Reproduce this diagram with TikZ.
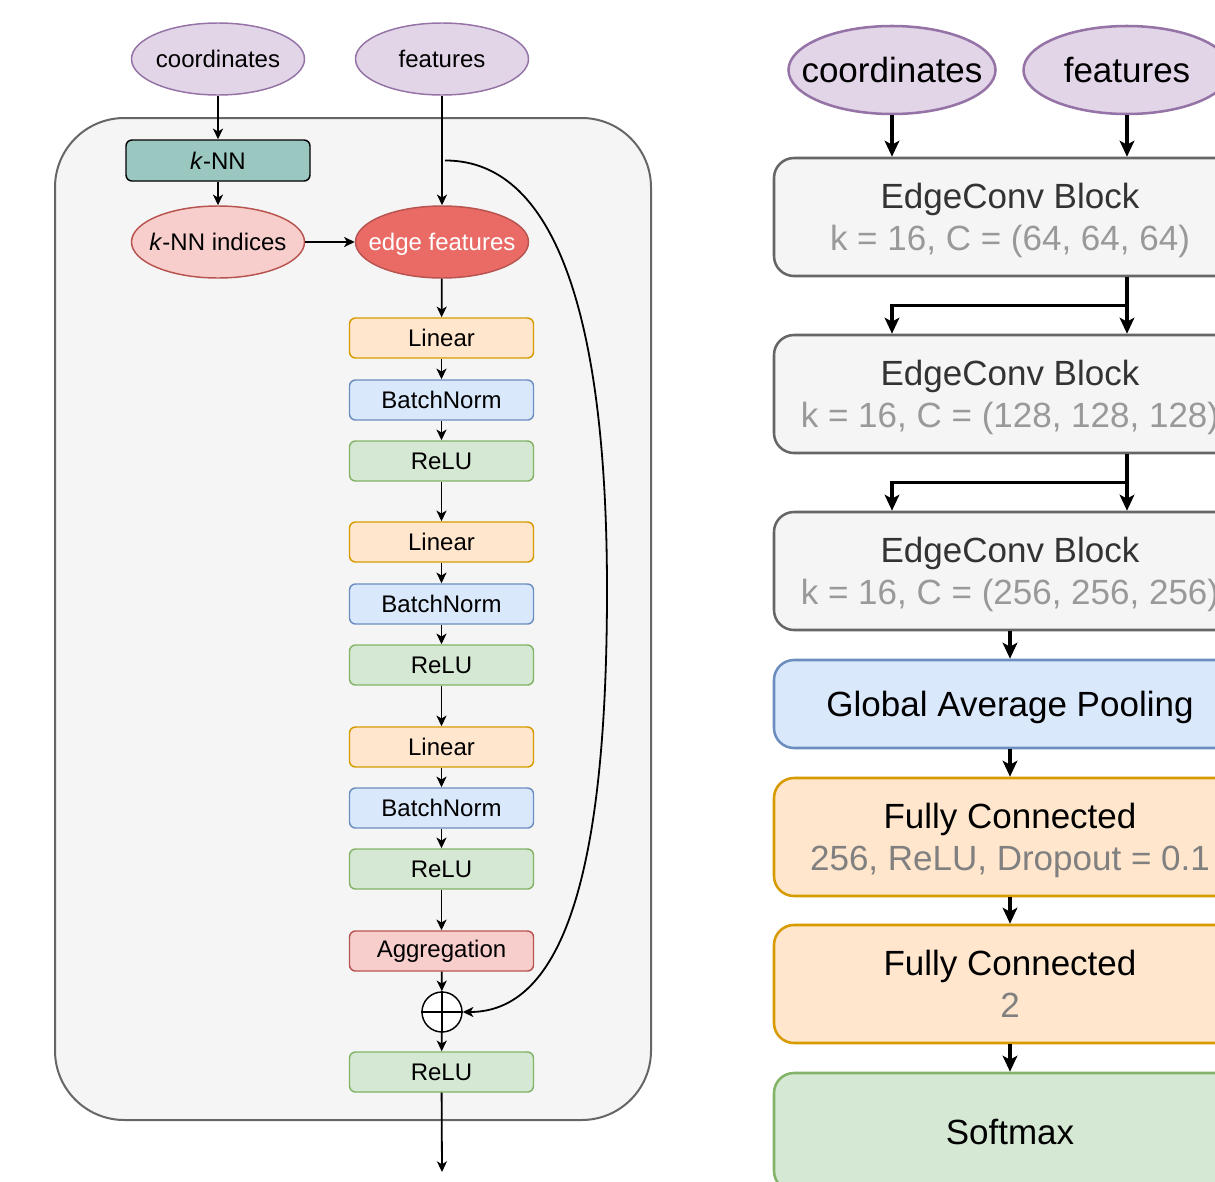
\documentclass[tikz,border=0pt]{standalone}
\usepackage{fontspec}
\setmainfont{Liberation Sans}
\usetikzlibrary{arrows.meta,shapes.geometric,calc}

\definecolor{purpF}{HTML}{E1D5E7}
\definecolor{purpD}{HTML}{9673A6}
\definecolor{tealF}{HTML}{9AC7BF}
\definecolor{pinkF}{HTML}{F8CECC}
\definecolor{redF}{HTML}{EA6B66}
\definecolor{redD}{HTML}{B85450}
\definecolor{orF}{HTML}{FFE6CC}
\definecolor{orD}{HTML}{D79B00}
\definecolor{blF}{HTML}{DAE8FC}
\definecolor{blD}{HTML}{6C8EBF}
\definecolor{grF}{HTML}{D5E8D4}
\definecolor{grD}{HTML}{82B366}
\definecolor{contF}{HTML}{F5F5F5}
\definecolor{contD}{HTML}{666666}
\definecolor{txtDark}{HTML}{333333}
\definecolor{txtGrey}{HTML}{999999}
\definecolor{txtMid}{HTML}{808080}

% ellipse labels are set in a zero-width box so the ellipse keeps its given size
\newcommand{\elltext}[1]{\makebox[0pt]{#1}}

\tikzset{
  fontL/.style={font=\fontsize{18}{21.6}\selectfont},
  fontR/.style={font=\fontsize{26.25}{31.5}\selectfont},
  ellL/.style={ellipse, fontL, text depth=0pt, minimum width=129.75pt, minimum height=54pt, inner sep=0pt, line width=1.1pt},
  boxL/.style={rectangle, fontL, rounded corners=4.5pt, minimum width=138pt, minimum height=30pt, inner sep=0pt, line width=1.1pt},
  ellR/.style={ellipse, fontR, minimum width=155.25pt, minimum height=66pt, inner sep=0pt, line width=1.9pt, fill=purpF, draw=purpD},
  boxR/.style={rectangle, fontR, align=center, text depth=0pt, rounded corners=15pt, minimum width=354pt, minimum height=88.5pt, inner sep=0pt, line width=1.9pt},
  linbox/.style={boxL, fill=orF, draw=orD},
  bnbox/.style={boxL, fill=blF, draw=blD},
  relubox/.style={boxL, fill=grF, draw=grD},
  arrL/.style={line width=1.35pt, -{Stealth[length=8pt,width=7.5pt,inset=2.2pt]}},
  arrR/.style={line width=2.4pt, -{Stealth[length=12pt,width=11pt,inset=3pt]}},
}

\begin{document}
\begin{tikzpicture}[x=0.75pt,y=-0.75pt]
\useasboundingbox (0,0) rectangle (1215,1182);
\clip (0,0) rectangle (1215,1182);
\fill[white] (0,0) rectangle (1215,1182);

% ---------- EdgeConv block internals ----------
\draw[fill=contF, draw=contD, line width=1.5pt, rounded corners=52pt] (55,118) rectangle (651,1120);

\node[ellL, fill=purpF, draw=purpD] (coord) at (218,59) {\elltext{coordinates}};
\node[ellL, fill=purpF, draw=purpD] (feat) at (442,59) {\elltext{features}};

\node[boxL, fill=tealF, draw=black, minimum height=30.75pt] (knn) at (218,160.5) {\textit{k}-NN};
\node[ellL, fill=pinkF, draw=redD] (knnidx) at (218,242) {\elltext{\textit{k}-NN indices}};
\node[ellL, fill=redF, draw=redD, text=white] (edge) at (442,242) {\elltext{edge features}};

\node[linbox]  (lin1) at (441.5,338) {Linear};
\node[bnbox]   (bn1)  at (441.5,400) {BatchNorm};
\node[relubox] (re1)  at (441.5,461) {ReLU};
\node[linbox]  (lin2) at (441.5,542) {Linear};
\node[bnbox]   (bn2)  at (441.5,604) {BatchNorm};
\node[relubox] (re2)  at (441.5,665) {ReLU};
\node[linbox]  (lin3) at (441.5,747) {Linear};
\node[bnbox]   (bn3)  at (441.5,808) {BatchNorm};
\node[relubox] (re3)  at (441.5,869) {ReLU};
\node[boxL, fill=pinkF, draw=redD] (agg) at (441.5,951) {Aggregation};
\node[circle, draw=black, fill=white, line width=1.1pt, minimum size=30pt, inner sep=0pt] (plus) at (442,1012) {};
\draw[line width=1.1pt] (plus.north) -- (plus.south) (plus.west) -- (plus.east);
\node[relubox] (re4) at (441.5,1072) {ReLU};
\coordinate (out) at (442,1172);
\coordinate (tap) at (feat.south |- knn);

\draw[arrL] (coord) -- (knn);
\draw[arrL] (knn) -- (knnidx);
\draw[arrL] (knnidx) -- (edge);
\draw[arrL] (feat) -- (edge);
\draw[arrL] (edge) -- (lin1);
\draw[arrL] (lin1) -- (bn1);
\draw[arrL] (bn1) -- (re1);
\draw[arrL] (re1) -- (lin2);
\draw[arrL] (lin2) -- (bn2);
\draw[arrL] (bn2) -- (re2);
\draw[arrL] (re2) -- (lin3);
\draw[arrL] (lin3) -- (bn3);
\draw[arrL] (bn3) -- (re3);
\draw[arrL] (re3) -- (agg);
\draw[arrL] (agg) -- (plus);
\draw[arrL] (plus) -- (re4);
\draw[arrL] (re4) -- (out);
% residual shortcut
\draw[arrL] ($(tap)+(3,0)$) .. controls (560,160) and (607,330) .. (607,590)
  .. controls (607,850) and (570,1012) .. (plus.east);

% ---------- full network ----------
\node[ellR] (coordR) at (892,70) {\elltext{coordinates}};
\node[ellR] (featR) at (1127,70) {\elltext{features}};

\node[boxR, fill=contF, draw=contD] (b1) at (1010,217)
  {\textcolor{txtDark}{EdgeConv Block}\\\textcolor{txtGrey}{k = 16, C = (64, 64, 64)}};
\node[boxR, fill=contF, draw=contD] (b2) at (1010,394)
  {\textcolor{txtDark}{EdgeConv Block}\\\textcolor{txtGrey}{k = 16, C = (128, 128, 128)}};
\node[boxR, fill=contF, draw=contD] (b3) at (1010,571)
  {\textcolor{txtDark}{EdgeConv Block}\\\textcolor{txtGrey}{k = 16, C = (256, 256, 256)}};
\node[boxR, fill=blF, draw=blD, minimum height=66pt] (gap) at (1010,704) {Global Average Pooling};
\node[boxR, fill=orF, draw=orD] (fc1) at (1010,837)
  {Fully Connected\\\textcolor{txtMid}{256, ReLU, Dropout = 0.1}};
\node[boxR, fill=orF, draw=orD] (fc2) at (1010,984)
  {Fully Connected\\\textcolor{txtMid}{2}};
\node[boxR, fill=grF, draw=grD] (sm) at (1010,1132) {Softmax};

\draw[arrR] (coordR) -- (coordR |- b1.north);
\draw[arrR] (featR) -- (featR |- b1.north);

\coordinate (j1) at ($(b1.south -| featR)!0.5!(b2.north -| featR)$);
\draw[arrR] (b1.south -| featR) -- (b2.north -| featR);
\draw[arrR] (j1) -| (b2.north -| coordR);

\coordinate (j2) at ($(b2.south -| featR)!0.5!(b3.north -| featR)$);
\draw[arrR] (b2.south -| featR) -- (b3.north -| featR);
\draw[arrR] (j2) -| (b3.north -| coordR);

\draw[arrR] (b3) -- (gap);
\draw[arrR] (gap) -- (fc1);
\draw[arrR] (fc1) -- (fc2);
\draw[arrR] (fc2) -- (sm);
\end{tikzpicture}
\end{document}
